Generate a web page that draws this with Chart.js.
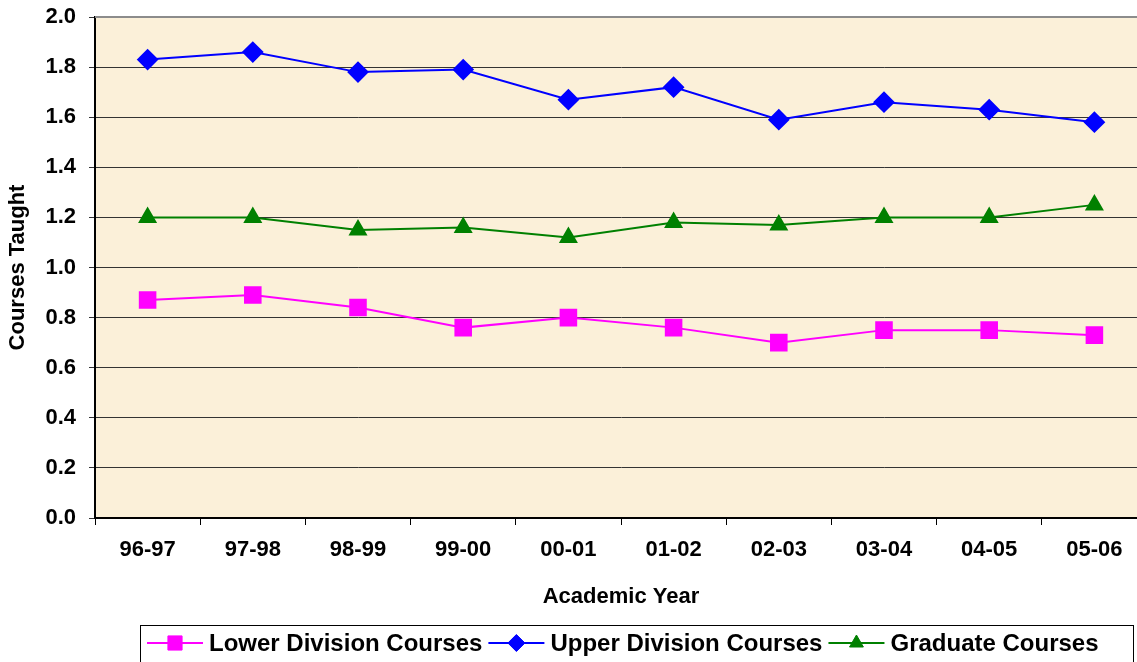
<!DOCTYPE html>
<html>
<head>
<meta charset="utf-8">
<script src="https://cdn.jsdelivr.net/npm/chart.js@4/dist/chart.umd.min.js"></script>
<style>
  html, body { margin:0; padding:0; background:#fff; overflow:hidden; }
  #wrap { position:relative; width:1160px; height:662px; }
</style>
</head>
<body>
<div id="wrap"><canvas id="chartCourses"></canvas></div>
<script>
// chart data
const years = ['96-97','97-98','98-99','99-00','00-01','01-02','02-03','03-04','04-05','05-06'];
const lowerDivision = [0.87,0.89,0.84,0.76,0.80,0.76,0.70,0.75,0.75,0.73];
const upperDivision = [1.83,1.86,1.78,1.79,1.67,1.72,1.59,1.66,1.63,1.58];
const graduate = [1.20,1.20,1.15,1.16,1.12,1.18,1.17,1.20,1.20,1.25];
const yTicks = [0,0.2,0.4,0.6,0.8,1.0,1.2,1.4,1.6,1.8,2.0];

const FONT = '"Liberation Sans", Arial, sans-serif';

// paper-like background + gray top edge of the plot
const plotBg = {
  id:'plotBg',
  beforeDraw(chart){
    const {ctx, chartArea:a} = chart;
    ctx.save();
    ctx.fillStyle = '#FBF0D9';
    ctx.fillRect(a.left, a.top, a.right - a.left, a.bottom - a.top);
    ctx.restore();
  },
  afterDraw(chart){
    const {ctx, chartArea:a} = chart;
    ctx.save();
    ctx.strokeStyle = '#8c8c8c';
    ctx.lineWidth = 2;
    ctx.beginPath();
    ctx.moveTo(a.left, a.top);
    ctx.lineTo(a.right, a.top);
    ctx.stroke();
    ctx.restore();
  }
};

// boxed legend with line + marker samples, like the original
const boxLegend = {
  id:'boxLegend',
  afterDraw(chart){
    const ctx = chart.ctx;
    const box = {x:140.5, y:625.5, w:993, h:45};
    ctx.save();
    ctx.fillStyle = '#fff';
    ctx.fillRect(box.x, box.y, box.w, box.h);
    ctx.strokeStyle = '#000';
    ctx.lineWidth = 1;
    ctx.strokeRect(box.x, box.y, box.w, box.h);
    ctx.font = 'bold 24px ' + FONT;
    ctx.textBaseline = 'middle';
    const lineW = 56, gap = 6, itemGap = 6;
    let x = 147;
    const y = 643;
    chart.data.datasets.forEach(ds=>{
      ctx.strokeStyle = ds.borderColor;
      ctx.lineWidth = 2;
      ctx.beginPath();
      ctx.moveTo(x, y); ctx.lineTo(x + lineW, y);
      ctx.stroke();
      ctx.fillStyle = ds.pointBackgroundColor;
      ctx.strokeStyle = ds.pointBorderColor;
      ctx.lineWidth = 1;
      Chart.helpers.drawPoint(ctx, {pointStyle:ds.pointStyle, radius:ds.pointRadius - 1, borderWidth:1}, x + lineW/2, y);
      ctx.fillStyle = '#000';
      ctx.fillText(ds.label, x + lineW + gap, y + 1);
      x += lineW + gap + ctx.measureText(ds.label).width + itemGap;
    });
    ctx.restore();
  }
};

const ctx = document.getElementById('chartCourses');
new Chart(ctx, {
  type:'line',
  data:{
    labels: years,
    datasets:[
      {label:'Lower Division Courses', data:lowerDivision, borderColor:'#FF00FF', backgroundColor:'#FF00FF',
       pointBackgroundColor:'#FF00FF', pointBorderColor:'#FF00FF', pointStyle:'rect', pointRadius:11, borderWidth:2, tension:0},
      {label:'Upper Division Courses', data:upperDivision, borderColor:'#0000FF', backgroundColor:'#0000FF',
       pointBackgroundColor:'#0000FF', pointBorderColor:'#0000FF', pointStyle:'rectRot', pointRadius:9.5, borderWidth:2, tension:0},
      {label:'Graduate Courses', data:graduate, borderColor:'#008000', backgroundColor:'#008000',
       pointBackgroundColor:'#008000', pointBorderColor:'#008000', pointStyle:'triangle', pointRadius:9, borderWidth:2, tension:0}
    ]
  },
  options:{
    responsive:true,
    maintainAspectRatio:false,
    animation:false,
    layout:{ padding:{ top:17, right:3, bottom:44, left:0 } },
    plugins:{ legend:{ display:false }, tooltip:{ enabled:false } },
    scales:{
      x:{
        offset:true,
        grid:{ offset:true, drawOnChartArea:false, color:'#000', tickLength:7, tickWidth:1 },
        border:{ color:'#000', width:2 },
        ticks:{ color:'#000', font:{ family:FONT, size:22, weight:'bold' }, padding:12, maxRotation:0 },
        title:{ display:true, text:'Academic Year', color:'#000', font:{ family:FONT, size:22, weight:'bold' }, padding:{ top:0, bottom:8 } },
        afterFit(scale){ scale.height = 100; scale.paddingLeft = 0; scale.paddingRight = 0; }
      },
      y:{
        min:0, max:2,
        afterBuildTicks(scale){ scale.ticks = yTicks.map(v => ({value:v})); },
        grid:{ color:'#333', lineWidth:1, tickLength:6, drawTicks:true },
        border:{ color:'#000', width:2 },
        ticks:{ color:'#000', font:{ family:FONT, size:22, weight:'bold' }, padding:13, callback:v => v.toFixed(1) },
        title:{ display:true, text:'Courses Taught', color:'#000', font:{ family:FONT, size:22, weight:'bold' }, padding:{ top:5, bottom:0 } },
        afterFit(scale){ scale.width = 95; scale.paddingTop = 0; scale.paddingBottom = 0; }
      }
    }
  },
  plugins:[plotBg, boxLegend]
});
</script>
</body>
</html>
